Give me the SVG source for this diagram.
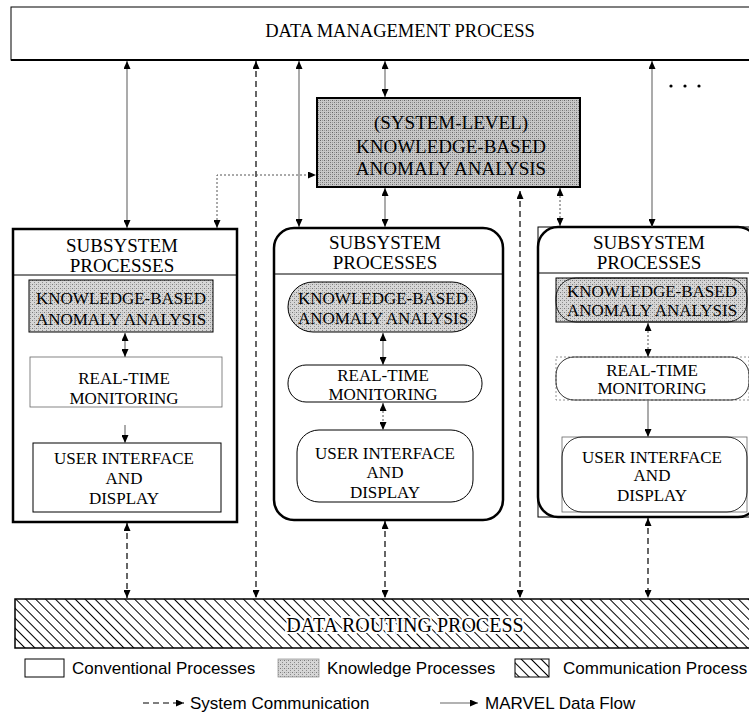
<svg xmlns="http://www.w3.org/2000/svg" width="749" height="721" viewBox="0 0 749 721">
<style>
.serif{font-family:"Liberation Serif","Times New Roman",serif;fill:#000;text-anchor:middle}
.sans{font-family:"Liberation Sans",Arial,sans-serif;fill:#000;font-size:17px}
.box{fill:#fff;stroke:#000;stroke-width:1}
.thick{fill:none;stroke:#000;stroke-width:2.5}
.kb{fill:url(#stip);stroke:#000;stroke-width:1}
.thin{fill:#fff;stroke:#666;stroke-width:0.8}
.flow{fill:none;stroke:#666;stroke-width:1.1;marker-start:url(#ah);marker-end:url(#ah)}
.flow1{fill:none;stroke:#666;stroke-width:1.1;marker-end:url(#ah)}
.dot{fill:none;stroke:#555;stroke-width:1;stroke-dasharray:2 2;marker-start:url(#ah);marker-end:url(#ah)}
.dash{fill:none;stroke:#000;stroke-width:1.2;stroke-dasharray:6 4;marker-start:url(#ah);marker-end:url(#ah)}
</style>
<defs>
<marker id="ah" viewBox="0 0 8 7" refX="8" refY="3.5" markerWidth="8" markerHeight="7" markerUnits="userSpaceOnUse" orient="auto-start-reverse">
<path d="M0,0 L8,3.5 L0,7 z" fill="#000"/>
</marker>
<pattern id="stip" width="4" height="4" patternUnits="userSpaceOnUse">
<rect width="4" height="4" fill="#d6d6d6"/>
<rect x="0" y="0" width="1" height="1" fill="#7a7a7a"/>
<rect x="2" y="2" width="1" height="1" fill="#8a8a8a"/>
<rect x="2" y="0" width="1" height="1" fill="#b0b0b0"/>
</pattern>
<pattern id="stip2" width="4" height="4" patternUnits="userSpaceOnUse">
<rect width="4" height="4" fill="#c8c8c8"/>
<rect x="0" y="0" width="1" height="1" fill="#666"/>
<rect x="2" y="2" width="1" height="1" fill="#777"/>
<rect x="2" y="0" width="1" height="1" fill="#999"/>
<rect x="0" y="2" width="1" height="1" fill="#999"/>
</pattern>
<pattern id="hatch" width="7" height="7" patternUnits="userSpaceOnUse" patternTransform="rotate(-45)">
<rect width="7" height="7" fill="#fff"/>
<line x1="0.5" y1="0" x2="0.5" y2="7" stroke="#000" stroke-width="1"/>
</pattern>
</defs>

<g id="data-management">
<rect x="11" y="7" width="745" height="53" class="box" stroke-width="1.5"/>
<line x1="11" y1="60" x2="749" y2="60" stroke="#000" stroke-width="2"/>
<text x="400" y="37" class="serif" font-size="18.5">DATA MANAGEMENT PROCESS</text>
</g>

<g id="ellipsis">
<circle cx="671" cy="86" r="1.6" fill="#000"/>
<circle cx="685" cy="86" r="1.6" fill="#000"/>
<circle cx="699" cy="86" r="1.6" fill="#000"/>
</g>

<g id="system-kb">
<rect x="317" y="98" width="263" height="89" fill="url(#stip2)" stroke="#000" stroke-width="2"/>
<text x="451" y="129" class="serif" font-size="19">(SYSTEM-LEVEL)</text>
<text x="451" y="153" class="serif" font-size="19">KNOWLEDGE-BASED</text>
<text x="451" y="175" class="serif" font-size="19">ANOMALY ANALYSIS</text>
</g>

<g id="subsystem1">
<rect x="13" y="229" width="224" height="293" class="box"/>
<rect x="13" y="229" width="224" height="293" class="thick"/>
<line x1="13" y1="275" x2="237" y2="275" stroke="#000" stroke-width="1"/>
<text x="122" y="252" class="serif" font-size="19">SUBSYSTEM</text>
<text x="122" y="272" class="serif" font-size="19">PROCESSES</text>
<g id="sub1-kb">
<rect x="29" y="280" width="184" height="52" class="kb" stroke="#888"/>
<text x="121" y="304" class="serif" font-size="17">KNOWLEDGE-BASED</text>
<text x="121" y="325" class="serif" font-size="17">ANOMALY ANALYSIS</text>
</g>
<g id="sub1-rt">
<rect x="30" y="357" width="192" height="50" class="thin"/>
<text x="124" y="384" class="serif" font-size="17">REAL-TIME</text>
<text x="124" y="404" class="serif" font-size="17">MONITORING</text>
</g>
<g id="sub1-ui">
<rect x="33" y="443" width="188" height="69" class="box"/>
<text x="124" y="464" class="serif" font-size="17">USER INTERFACE</text>
<text x="124" y="484" class="serif" font-size="17">AND</text>
<text x="124" y="504" class="serif" font-size="17">DISPLAY</text>
</g>
</g>

<g id="subsystem2">
<rect x="274" y="228" width="229" height="292" rx="20" class="box"/>
<rect x="274" y="228" width="229" height="292" rx="20" class="thick"/>
<line x1="274" y1="274" x2="503" y2="274" stroke="#000" stroke-width="1"/>
<text x="385" y="249" class="serif" font-size="19">SUBSYSTEM</text>
<text x="385" y="269" class="serif" font-size="19">PROCESSES</text>
<g id="sub2-kb">
<rect x="288" y="282" width="189" height="50" rx="25" class="kb"/>
<text x="383" y="304" class="serif" font-size="17">KNOWLEDGE-BASED</text>
<text x="383" y="324" class="serif" font-size="17">ANOMALY ANALYSIS</text>
</g>
<g id="sub2-rt">
<rect x="288" y="365" width="194" height="37" rx="18" class="box"/>
<text x="383" y="381" class="serif" font-size="17">REAL-TIME</text>
<text x="383" y="400" class="serif" font-size="17">MONITORING</text>
</g>
<g id="sub2-ui">
<rect x="297" y="430" width="176" height="72" rx="22" class="box"/>
<text x="385" y="459" class="serif" font-size="17">USER INTERFACE</text>
<text x="385" y="478" class="serif" font-size="17">AND</text>
<text x="385" y="498" class="serif" font-size="17">DISPLAY</text>
</g>
</g>

<g id="subsystem3">
<rect x="538" y="227" width="220" height="290" class="box"/>
<rect x="538" y="227" width="220" height="290" rx="20" class="thick"/>
<line x1="538" y1="273" x2="749" y2="273" stroke="#000" stroke-width="1"/>
<text x="649" y="249" class="serif" font-size="19">SUBSYSTEM</text>
<text x="649" y="269" class="serif" font-size="19">PROCESSES</text>
<g id="sub3-kb">
<rect x="556" y="278" width="191" height="44" class="kb"/>
<rect x="556" y="278" width="191" height="44" rx="20" fill="none" stroke="#000" stroke-width="0.8"/>
<text x="652" y="297" class="serif" font-size="17">KNOWLEDGE-BASED</text>
<text x="652" y="316" class="serif" font-size="17">ANOMALY ANALYSIS</text>
</g>
<g id="sub3-rt">
<rect x="556" y="357" width="193" height="43" fill="#fff" stroke="#777" stroke-width="0.8" stroke-dasharray="2 2"/>
<rect x="556" y="357" width="193" height="43" rx="18" fill="none" stroke="#000" stroke-width="0.8"/>
<text x="652" y="376" class="serif" font-size="17">REAL-TIME</text>
<text x="652" y="394" class="serif" font-size="17">MONITORING</text>
</g>
<g id="sub3-ui">
<rect x="562" y="437" width="185" height="75" class="thin"/>
<rect x="562" y="437" width="185" height="75" rx="20" fill="none" stroke="#000" stroke-width="0.8"/>
<text x="652" y="463" class="serif" font-size="17">USER INTERFACE</text>
<text x="652" y="481" class="serif" font-size="17">AND</text>
<text x="652" y="501" class="serif" font-size="17">DISPLAY</text>
</g>
</g>

<g id="data-routing">
<rect x="15" y="599" width="740" height="49" fill="url(#hatch)" stroke="#000" stroke-width="1.5"/>
<text x="405" y="632" class="serif" font-size="20" stroke="#fff" stroke-width="4" stroke-linejoin="round" paint-order="stroke">DATA ROUTING PROCESS</text>
</g>

<g id="connectors">
<line x1="127" y1="61" x2="127" y2="228" class="flow"/>
<line x1="256" y1="61" x2="256" y2="598" class="dash"/>
<line x1="299" y1="61" x2="299" y2="227" class="flow"/>
<line x1="385" y1="61" x2="385" y2="97" class="flow"/>
<line x1="652" y1="61" x2="652" y2="227" class="flow"/>
<line x1="385" y1="188" x2="385" y2="227" class="flow"/>
<line x1="520" y1="191" x2="520" y2="598" class="dash"/>
<line x1="560" y1="188" x2="560" y2="226" class="dot"/>
<path d="M217,228 L217,175 L316,175" class="dot"/>
<line x1="125" y1="333" x2="125" y2="357" class="flow"/>
<line x1="125" y1="425" x2="125" y2="443" class="flow1"/>
<line x1="383" y1="333" x2="383" y2="365" class="flow"/>
<line x1="383" y1="403" x2="383" y2="430" class="dot"/>
<line x1="648" y1="323" x2="648" y2="357" class="dot"/>
<line x1="648" y1="401" x2="648" y2="437" class="flow1"/>
<line x1="127" y1="523" x2="127" y2="598" class="dash"/>
<line x1="385" y1="521" x2="385" y2="598" class="dash"/>
<line x1="648" y1="518" x2="648" y2="598" class="dash"/>
</g>

<g id="legend">
<rect x="25" y="659" width="39" height="18" class="box"/>
<text x="72" y="674" class="sans">Conventional Processes</text>
<rect x="278" y="659" width="41" height="18" fill="url(#stip)" stroke="#999" stroke-width="0.8"/>
<text x="327" y="674" class="sans">Knowledge Processes</text>
<rect x="515" y="659" width="34" height="18" fill="url(#hatch)" stroke="#000" stroke-width="1"/>
<text x="563" y="674" class="sans">Communication Process</text>
<line x1="143" y1="703" x2="184" y2="703" stroke="#000" stroke-width="1.2" stroke-dasharray="6 4" marker-end="url(#ah)"/>
<text x="190" y="709" class="sans">System Communication</text>
<line x1="440" y1="703" x2="478" y2="703" stroke="#666" stroke-width="1.1" marker-end="url(#ah)"/>
<text x="485" y="709" class="sans">MARVEL Data Flow</text>
</g>
</svg>
